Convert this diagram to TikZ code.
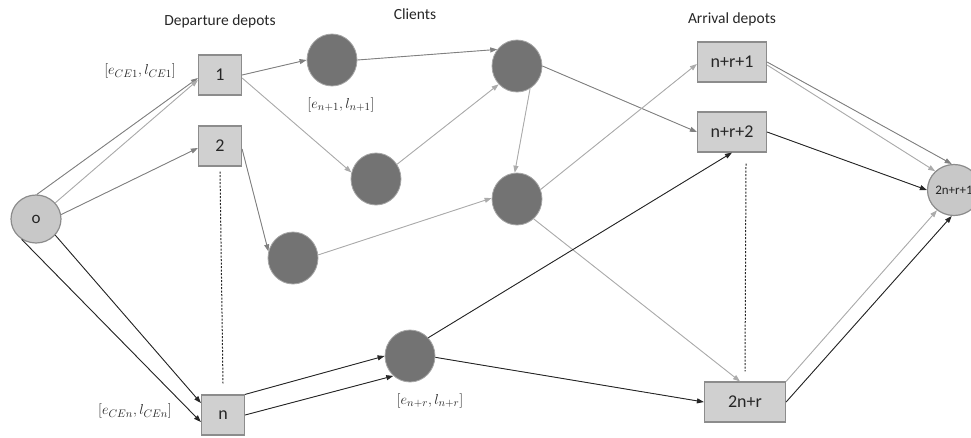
\documentclass[tikz,border=0pt]{standalone}
\usepackage{fontspec}
\setmainfont{Carlito}
\usetikzlibrary{arrows.meta,shapes.geometric}
\definecolor{boxfill}{HTML}{D0D0D0}
\definecolor{boxdraw}{HTML}{8C8C8C}
\definecolor{clfill}{HTML}{737373}
\definecolor{cldraw}{HTML}{A6A6A6}
\definecolor{ofill}{HTML}{C8C8C8}
\definecolor{ecdark}{HTML}{262626}
\definecolor{ecmid}{HTML}{808080}
\definecolor{eclight}{HTML}{ABABAB}
\definecolor{txt}{HTML}{262626}
\tikzset{
  depot/.style={draw=boxdraw, fill=boxfill, line width=1.2pt, minimum width=43pt, minimum height=40pt, inner sep=0pt, text=txt, font=\fontsize{18}{21}\selectfont},
  client/.style={ellipse, draw=cldraw, fill=clfill, line width=0.8pt, minimum width=50pt, minimum height=52pt, inner sep=0pt},
  title/.style={font=\fontsize{15.5}{18}\selectfont, text=txt},
  win/.style={font=\fontsize{15.5}{18}\selectfont, text=txt},
  ed/.style={line width=0.9pt, -{Triangle[length=7pt,width=5pt]}},
  dk/.style={ed, draw=ecdark, fill=ecdark},
  md/.style={ed, draw=ecmid, fill=ecmid},
  lt/.style={ed, draw=eclight, fill=eclight},
  dots/.style={draw=black!85, line width=1pt, dash pattern=on 2pt off 1.5pt}
}
\begin{document}
\begin{tikzpicture}[x=1pt,y=-1pt]
\useasboundingbox (0,0) rectangle (971,437);

% titles
\node[title] (t1) at (220,21) {Departure depots};
\node[title] (t2) at (415,14) {Clients};
\node[title] (t3) at (732,19) {Arrival depots};

% origin
\node[ellipse, draw=boxdraw, fill=ofill, line width=1.2pt, minimum width=50pt, minimum height=48pt, inner sep=0pt, text=txt, font=\fontsize{17}{20}\selectfont] (o) at (36,219) {o};

% departure depots
\node[depot] (d1) at (220,75) {1};
\node[depot] (d2) at (220,146) {2};
\node[depot] (dn) at (223,415) {n};

% clients
\node[client] (c1) at (332,60) {};
\node[client] (c2) at (517,66) {};
\node[client] (c3) at (376,179) {};
\node[client] (c4) at (517,199) {};
\node[client] (c5) at (293,258) {};
\node[client] (c6) at (410,356) {};

% arrival depots
\node[depot, minimum width=69pt] (a1) at (732,62) {n+r+1};
\node[depot, minimum width=69pt] (a2) at (732,132) {n+r+2};
\node[depot, minimum width=81pt] (ar) at (745,402) {2n+r};
\node[ellipse, draw=boxdraw, fill=ofill, line width=1.2pt, minimum width=50pt, minimum height=51pt, inner sep=0pt, text=txt, font=\fontsize{13}{15}\selectfont] (f) at (954,190) {2n+r+1};

% time windows
\node[win] (w1) at (140,71) {$[e_{CE1},l_{CE1}]$};
\node[win] (wn) at (135,411) {$[e_{CEn},l_{CEn}]$};
\node[win] (wc1) at (341,105) {$[e_{n+1},l_{n+1}]$};
\node[win] (wcr) at (430,401) {$[e_{n+r},l_{n+r}]$};

% dotted lines
\draw[dots] ([yshift=-5pt]d2.south) -- ([yshift=11pt]dn.north);
\draw[dots] ([xshift=14pt,yshift=-11pt]a2.south) -- ([yshift=10pt]ar.north);

% edges from origin
\draw[md] (o.88) -- ([yshift=-3pt]d1.west);
\draw[lt] (o.40) -- ([yshift=-5pt]d1.west);
\draw[md] (o.10) -- ([yshift=-2pt]d2.west);
\draw[dk] (o.-125) -- ([yshift=-7pt]dn.west);
\draw[dk] (o.-40) -- ([yshift=12pt]dn.west);

% departure depots to clients
\draw[md] (d1.east) -- (c1.west);
\draw[lt] ([yshift=-3pt]d1.east) -- (c3.165);
\draw[md] ([yshift=-3pt]d2.east) -- (c5.165);
\draw[dk] (dn.north east) -- (c6.180);
\draw[dk] (dn.east) -- (c6.-130);

% between clients
\draw[md] (c1.east) -- (c2.140);
\draw[lt] (c3.35) -- (c2.-135);
\draw[lt] (c2.-60) -- (c4.95);
\draw[lt] (c5.7) -- (c4.178);

% clients to arrival depots
\draw[md] (c2.east) -- (a2.west);
\draw[lt] (c4.22) -- ([yshift=-2pt]a1.west);
\draw[lt] (c4.-50) -- ([xshift=-5pt]ar.north);
\draw[dk] (c6.45) -- (a2.south);
\draw[dk] (c6.-3) -- (ar.west);

% arrival depots to final node
\draw[md] (a1.east) -- (f.95);
\draw[lt] ([yshift=-3pt]a1.east) -- (f.135);
\draw[dk] (a2.east) -- (f.180);
\draw[lt] (ar.north east) -- (f.-130);
\draw[dk] (ar.east) -- (f.-95);
\end{tikzpicture}
\end{document}
